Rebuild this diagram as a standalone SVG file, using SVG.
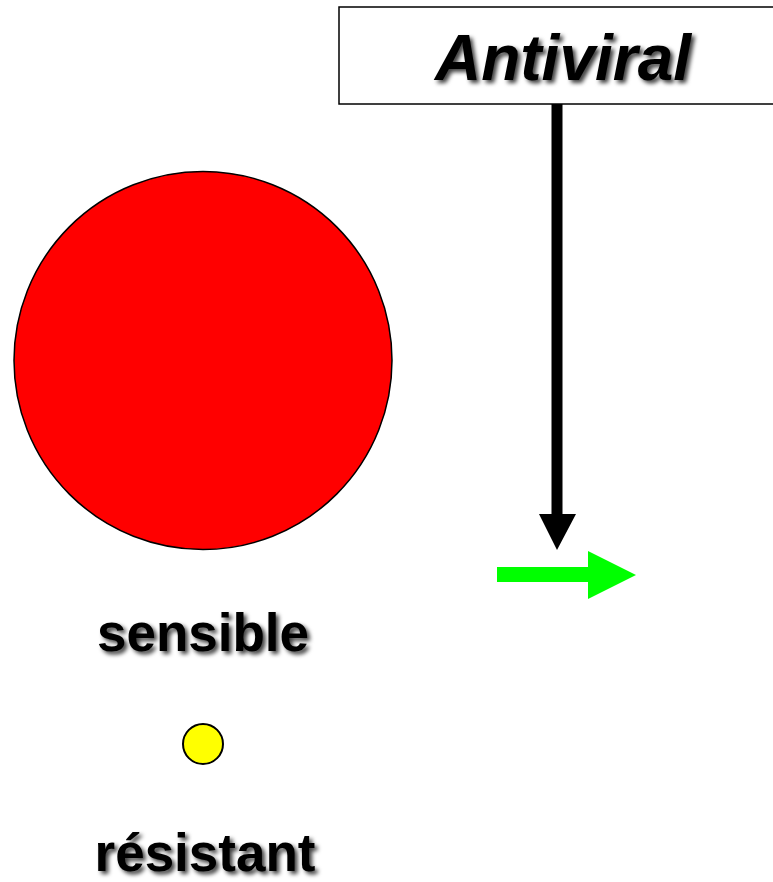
<svg xmlns="http://www.w3.org/2000/svg" width="773" height="882" viewBox="0 0 773 882">
<style>
.lbl{font-family:"Liberation Sans",Arial,sans-serif;font-weight:bold;fill:#000;text-anchor:middle;filter:url(#sh)}
</style>
<defs>
<filter id="sh" x="-10%" y="-20%" width="130%" height="150%">
<feDropShadow dx="3" dy="3" stdDeviation="2" flood-color="#000" flood-opacity="0.75"/>
</filter>
</defs>
<rect width="773" height="882" fill="#fff"/>
<g id="antiviral">
<rect x="339" y="7" width="440" height="97" fill="#fff" stroke="#000" stroke-width="1.5"/>
<text class="lbl" x="563" y="80" font-size="64" font-style="italic">Antiviral</text>
</g>
<g id="sensible-cell">
<circle cx="203" cy="360.5" r="189" fill="#ff0000" stroke="#000" stroke-width="1.5"/>
</g>
<g id="sensible-label">
<text class="lbl" x="203" y="651" font-size="53">sensible</text>
</g>
<g id="resistant-cell">
<circle cx="203" cy="744" r="20" fill="#ffff00" stroke="#000" stroke-width="2"/>
</g>
<g id="resistant-label">
<text class="lbl" x="205" y="871" font-size="53">résistant</text>
</g>
<g id="connectors">
<polygon points="551.5,104 562.5,104 562.5,514 576,514 557,550 539,514 551.5,514" fill="#000"/>
<polygon points="497,567 588,567 588,551 636,575 588,599 588,582 497,582" fill="#00ff00"/>
</g>
</svg>
